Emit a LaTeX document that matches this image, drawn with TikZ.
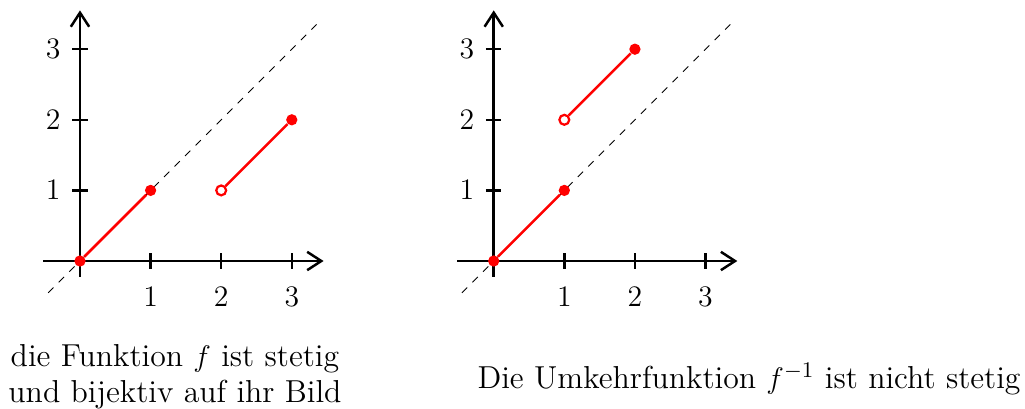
\documentclass[tikz,border=0pt]{standalone}
\usepackage{tikz}
\usetikzlibrary{arrows.meta}
\tikzset{
  >={Straight Barb[length=2mm,width=2.6mm]},
  every node/.style={font=\fontsize{12.8}{13.3}\selectfont},
  axis/.style={->,line width=1pt},
  tickmark/.style={line width=1pt},
  diag/.style={dashed,thin},
  graph/.style={red,line width=1pt},
  dot/.style={circle,fill=red,inner sep=0pt,minimum size=1.6mm},
  hole/.style={circle,draw=red,line width=0.9pt,fill=white,inner sep=0pt,minimum size=1.4mm},
  caption/.style={anchor=base},
  % coordinate system
  pics/achsen/.style={code={
    \draw[diag] (-0.45,-0.45) -- (3.35,3.35);
    \draw[axis] (-0.52,0) -- (3.45,0);
    \draw[axis] (0,-0.22) -- (0,3.55);
    \foreach \k in {1,2,3}{
      \draw[tickmark] (\k,-0.11) -- (\k,0.11);
      \draw[tickmark] (-0.11,\k) -- (0.11,\k);
      \node at (\k,-0.51) {$\k$};
      \node at (-0.38,\k) {$\k$};
    }
  }},
}
\begin{document}
\begin{tikzpicture}
  \useasboundingbox (-1.133,-2.082) rectangle (13.385,3.697);
  % f
  \pic at (0,0) {achsen};
  \node[dot] (f0) at (0,0) {};
  \node[dot] (f1) at (1,1) {};
  \node[hole] (f2) at (2,1) {};
  \node[dot] (f3) at (3,2) {};
  \draw[graph] (f0) -- (f1);
  \draw[graph] (f2) -- (f3);
  \node[caption] (textf1) at (1.345,-1.49) {die Funktion $f$ ist stetig};
  \node[caption] (textf2) at (1.345,-2.0) {und bijektiv auf ihr Bild};
  % f^{-1}
  \begin{scope}[xshift=5.86cm]
    \pic at (0,0) {achsen};
    \node[dot] (g0) at (0,0) {};
    \node[dot] (g1) at (1,1) {};
    \node[hole] (g2) at (1,2) {};
    \node[dot] (g3) at (2,3) {};
    \draw[graph] (g0) -- (g1);
    \draw[graph] (g2) -- (g3);
  \end{scope}
  \node[caption] (textg) at (9.476,-1.80) {Die Umkehrfunktion $f^{-1}$ ist nicht stetig};
\end{tikzpicture}
\end{document}
